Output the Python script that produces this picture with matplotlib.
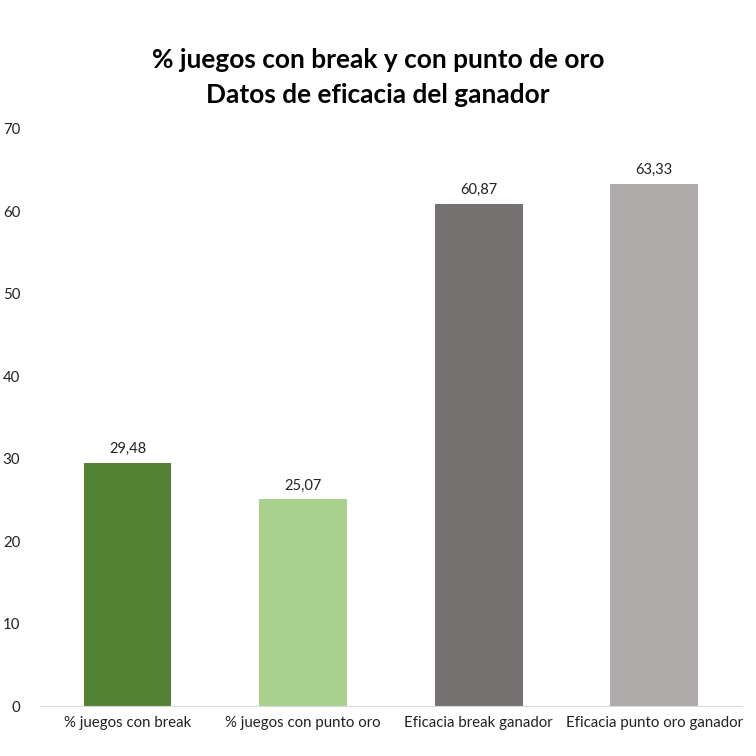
import matplotlib.pyplot as plt

categories = ["% juegos con break", "% juegos con punto oro",
              "Eficacia break ganador", "Eficacia punto oro ganador"]
values = [29.48, 25.07, 60.87, 63.33]
labels = ["29,48", "25,07", "60,87", "63,33"]
colors = ["#548235", "#A9D18E", "#767171", "#AEAAAA"]

plt.rcParams["font.family"] = ["Lato", "DejaVu Sans"]

fig = plt.figure(figsize=(7.56, 7.56), dpi=100)
ax = fig.add_axes([0.0526, 0.0661, 0.929, 0.7633])

x = range(len(categories))
bars = ax.bar(x, values, width=0.5, color=colors)
for b, lab in zip(bars, labels):
    ax.annotate(lab, (b.get_x() + b.get_width() / 2, b.get_height()),
                xytext=(0, 5), textcoords="offset points",
                ha="center", va="bottom", fontsize=10.5, color="#222222")

ax.set_xlim(-0.5, len(categories) - 0.5)
ax.set_ylim(0, 70)
ax.set_yticks(range(0, 71, 10))
ax.set_xticks(list(x))
ax.set_xticklabels(categories)
ax.tick_params(axis="both", length=0, labelsize=10.8, colors="#222222")
ax.tick_params(axis="y", pad=14)
ax.tick_params(axis="x", pad=7)
for s in ["top", "right", "left"]:
    ax.spines[s].set_visible(False)
ax.spines["bottom"].set_color("#d9d9d9")

fig.text(0.5, 1 - 60 / 756, "% juegos con break y con punto de oro",
         ha="center", va="center", fontsize=18.9, fontweight="bold")
fig.text(0.5, 1 - 95 / 756, "Datos de eficacia del ganador",
         ha="center", va="center", fontsize=18.9, fontweight="bold")

fig.savefig("out.png", dpi=100)
